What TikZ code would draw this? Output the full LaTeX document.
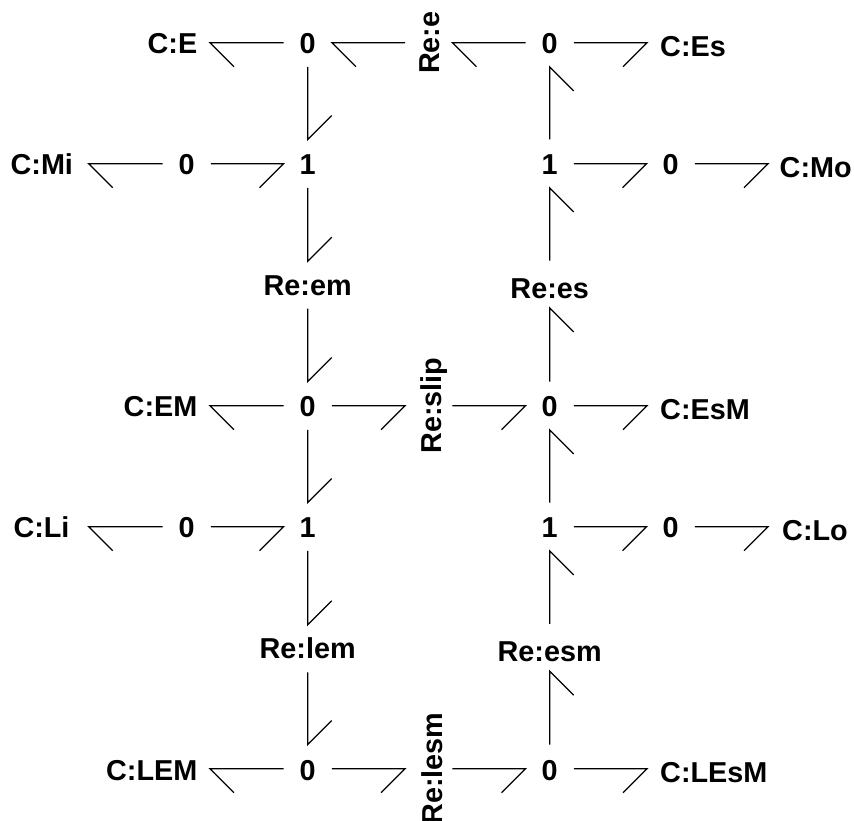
\documentclass[tikz,border=0pt]{standalone}
\usepackage{fontspec}
\setmainfont{Liberation Sans}
\tikzset{
  base/.style={inner sep=0pt,font=\fontsize{28.8}{30}\bfseries\selectfont,text height=22pt,text depth=0pt},
  junction/.style={base,minimum width=48pt,minimum height=48pt},
  storeL/.style={base,anchor=east,inner xsep=#1},
  storeR/.style={base,anchor=west,inner xsep=#1,text height=28pt},
  vres/.style={base,rotate=90,minimum height=47pt},
  hres/.style={base,minimum height=47pt},
  bondline/.style={line width=1.25pt,line join=miter,miter limit=10},
}
\newcommand{\bondL}[2]{\draw[bondline] (#1) -- (#1 -| #2) -- ++(24,24);}
\newcommand{\bondR}[2]{\draw[bondline] (#1) -- (#1 -| #2) -- ++(-24,24);}
\newcommand{\bondD}[2]{\draw[bondline] (#1) -- (#1 |- #2) -- ++(24,-24);}
\newcommand{\bondU}[2]{\draw[bondline] (#1) -- (#1 |- #2) -- ++(24,24);}
\begin{document}
\begin{tikzpicture}[x=1pt,y=-1pt]
\useasboundingbox (0,0) rectangle (854,821);
% junctions
\node[junction] (a0) at (307.7,42.7) {0};
\node[junction] (b0) at (549.7,42.7) {0};
\node[junction] (mi0) at (186.7,163.7) {0};
\node[junction] (a1) at (307.7,163.7) {1};
\node[junction] (b1) at (549.7,163.7) {1};
\node[junction] (mo0) at (670.7,163.7) {0};
\node[junction] (c0) at (307.7,405.7) {0};
\node[junction] (d0) at (549.7,405.7) {0};
\node[junction] (li0) at (186.7,526.7) {0};
\node[junction] (c1) at (307.7,526.7) {1};
\node[junction] (d1) at (549.7,526.7) {1};
\node[junction] (lo0) at (670.7,526.7) {0};
\node[junction,text height=24pt] (e0) at (307.7,768.7) {0};
\node[junction,text height=24pt] (f0) at (549.7,768.7) {0};
% stores
\node[storeL=12.5pt] (cE) at (210,42.7) {C:E};
\node[storeR=13pt] (cEs) at (647,42.7) {C:Es};
\node[storeL=15.5pt] (cMi) at (88.7,163.7) {C:Mi};
\node[storeR=11.5pt] (cMo) at (768,163.7) {C:Mo};
\node[storeL=12.5pt] (cEM) at (210,405.7) {C:EM};
\node[storeR=13pt] (cEsM) at (647,405.7) {C:EsM};
\node[storeL=19pt] (cLi) at (88.7,526.7) {C:Li};
\node[storeR=14pt] (cLo) at (768,526.7) {C:Lo};
\node[storeL=12.5pt,text height=24pt] (cLEM) at (210,768.7) {C:LEM};
\node[storeR=13pt] (cLEsM) at (647,768.7) {C:LEsM};
% resistors
\node[vres] (Re) at (428.7,42.7) {Re:e};
\node[vres,text height=26pt] (Rslip) at (428.7,405.7) {Re:slip};
\node[vres,text height=28pt] (Rlesm) at (428.7,768.7) {Re:lesm};
\node[hres] (Rem) at (307.7,284.9) {Re:em};
\node[hres,text height=29pt] (Res) at (549.7,284.3) {Re:es};
\node[hres,text height=20pt] (Rlem) at (307.7,648.6) {Re:lem};
\node[hres,text height=28pt] (Resm) at (549.7,647.5) {Re:esm};
% row 1
\bondL{a0.west}{cE.east}
\bondL{Re.north}{a0.east}
\bondL{b0.west}{Re.south}
\bondR{b0.east}{cEs.west}
% row 2
\bondL{mi0.west}{cMi.east}
\bondR{mi0.east}{a1.west}
\bondR{b1.east}{mo0.west}
\bondR{mo0.east}{cMo.west}
% row 4
\bondL{c0.west}{cEM.east}
\bondR{c0.east}{Rslip.north}
\bondR{Rslip.south}{d0.west}
\bondR{d0.east}{cEsM.west}
% row 5
\bondL{li0.west}{cLi.east}
\bondR{li0.east}{c1.west}
\bondR{d1.east}{lo0.west}
\bondR{lo0.east}{cLo.west}
% row 7
\bondL{e0.west}{cLEM.east}
\bondR{e0.east}{Rlesm.north}
\bondR{Rlesm.south}{f0.west}
\bondR{f0.east}{cLEsM.west}
% left column
\bondD{a0.south}{a1.north}
\bondD{a1.south}{Rem.north}
\bondD{Rem.south}{c0.north}
\bondD{c0.south}{c1.north}
\bondD{c1.south}{Rlem.north}
\bondD{Rlem.south}{e0.north}
% right column
\bondU{b1.north}{b0.south}
\bondU{Res.north}{b1.south}
\bondU{d0.north}{Res.south}
\bondU{d1.north}{d0.south}
\bondU{Resm.north}{d1.south}
\bondU{f0.north}{Resm.south}
\end{tikzpicture}
\end{document}
